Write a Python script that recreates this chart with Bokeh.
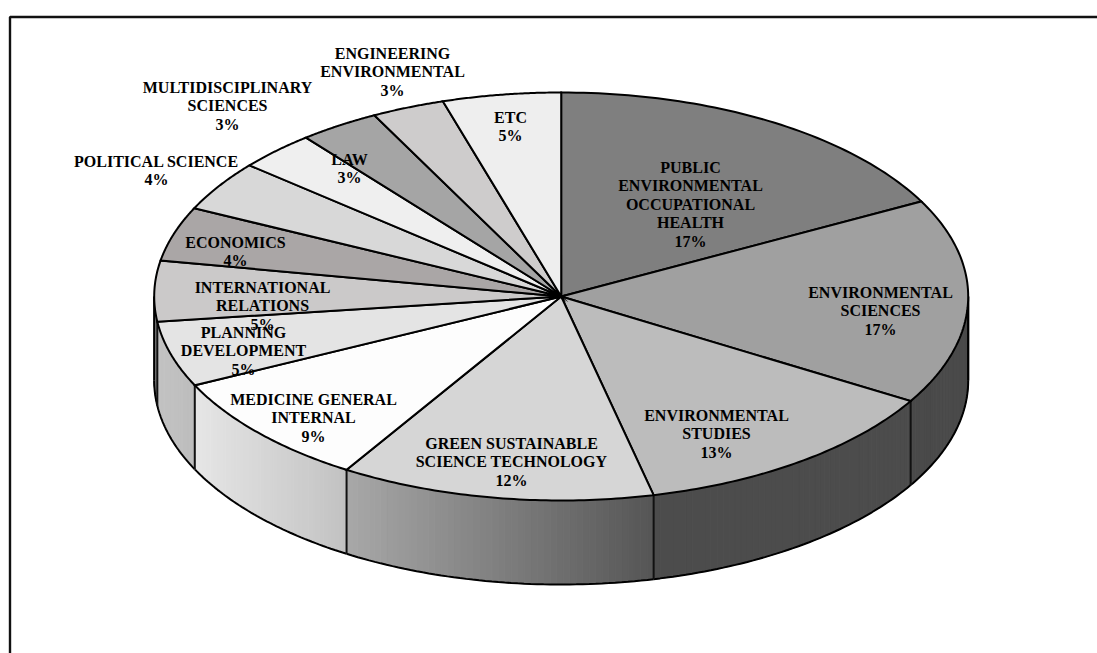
import numpy as np
from bokeh.core.properties import value
from bokeh.embed import file_html
from bokeh.models import ColumnDataSource, Range1d
from bokeh.plotting import figure
from bokeh.resources import INLINE

categories = ["PUBLIC ENVIRONMENTAL OCCUPATIONAL HEALTH", "ENVIRONMENTAL SCIENCES",
              "ENVIRONMENTAL STUDIES", "GREEN SUSTAINABLE SCIENCE TECHNOLOGY",
              "MEDICINE GENERAL INTERNAL", "PLANNING DEVELOPMENT",
              "INTERNATIONAL RELATIONS", "ECONOMICS", "POLITICAL SCIENCE",
              "MULTIDISCIPLINARY SCIENCES", "LAW", "ENGINEERING ENVIRONMENTAL", "ETC"]
shares = [17.3, 16.3, 12.8, 12.5, 9.0, 5.2, 4.8, 4.3, 4.0, 3.1, 3.2, 2.9, 4.7]
percent_labels = ["17%", "17%", "13%", "12%", "9%", "5%", "5%", "4%", "4%", "3%", "3%", "3%", "5%"]
label_lines = [
    ["PUBLIC", "ENVIRONMENTAL", "OCCUPATIONAL", "HEALTH"],
    ["ENVIRONMENTAL", "SCIENCES"],
    ["ENVIRONMENTAL", "STUDIES"],
    ["GREEN SUSTAINABLE", "SCIENCE TECHNOLOGY"],
    ["MEDICINE GENERAL", "INTERNAL"],
    ["PLANNING", "DEVELOPMENT"],
    ["INTERNATIONAL", "RELATIONS"],
    ["ECONOMICS"],
    ["POLITICAL SCIENCE"],
    ["MULTIDISCIPLINARY", "SCIENCES"],
    ["LAW"],
    ["ENGINEERING", "ENVIRONMENTAL"],
    ["ETC"],
]

# styling and layout (page-pixel coordinates)
top_colors = ["#7f7f7f", "#a0a0a0", "#bcbcbc", "#d6d6d6", "#fdfdfd", "#e4e4e4", "#cbc9c9",
              "#aaa6a6", "#d8d8d8", "#efefef", "#a5a5a5", "#cecccc", "#eeeeee"]
wall_colors = {1: ("#4a4a4a", "#4a4a4a"), 2: ("#4c4c4c", "#4c4c4c"), 3: ("#a8a8a8", "#555555"),
               4: ("#e6e6e6", "#c2c2c2"), 5: ("#c4c4c4", "#bcbcbc"), 6: ("#8c8c8c", "#8c8c8c")}
label_x = [690, 880, 716, 511, 313, 243, 262, 235, 156, 227, 349, 392, 510]
label_y = [167, 292, 415, 443, 399, 332, 287, 242, 161, 87, 159, 53, 117]
line_step = 18.4
CX, CY, RX, RY, DEPTH = 560.7, 296.0, 407.0, 204.0, 84.0
W, H = 1097, 653

p = figure(width=W, height=H, output_backend="svg", toolbar_location=None,
           x_range=Range1d(0, W), y_range=Range1d(H, 0),
           min_border=0, outline_line_color=None, background_fill_color="white")
p.axis.visible = False
p.grid.visible = False

def ex(t):
    return CX + RX * np.sin(np.radians(t))

def ey(t):
    return CY - RY * np.cos(np.radians(t))

# frame
p.line([9.5, 9.5, W], [H, 16.5, 16.5], line_color="#111111", line_width=2.4)

edges = np.concatenate([[0], np.cumsum(shares)]) / np.sum(shares) * 360.0

# side walls
for i in range(len(shares)):
    a, b = max(edges[i], 90.0), min(edges[i + 1], 270.0)
    if b <= a:
        continue
    ts = np.linspace(a, b, 50)
    xmin, xmax = ex(ts).min(), ex(ts).max()
    c0, c1 = wall_colors[i]
    c0 = np.array([int(c0[k:k + 2], 16) for k in (1, 3, 5)], float)
    c1 = np.array([int(c1[k:k + 2], 16) for k in (1, 3, 5)], float)
    xs, ys, cols = [], [], []
    for t0, t1 in zip(ts[:-1], ts[1:]):
        f = (0.5 * (ex(t0) + ex(t1)) - xmin) / max(xmax - xmin, 1e-6)
        c = c0 + (c1 - c0) * f
        cols.append("#%02x%02x%02x" % tuple(int(round(v)) for v in c))
        xs.append([ex(t0), ex(t1), ex(t1), ex(t0)])
        ys.append([ey(t0), ey(t1), ey(t1) + DEPTH, ey(t0) + DEPTH])
    p.patches(xs, ys, fill_color=cols, line_color=cols, line_width=1)
    p.line(ex(ts), ey(ts) + DEPTH, line_color="#000000", line_width=2.0)
    p.line([ex(a), ex(a)], [ey(a), ey(a) + DEPTH], line_color="#111111", line_width=2.0)

p.line([ex(270.0), ex(270.0)], [ey(270.0), ey(270.0) + DEPTH], line_color="#000000", line_width=2.0)
p.line([ex(90.0), ex(90.0)], [ey(90.0), ey(90.0) + DEPTH], line_color="#000000", line_width=2.0)

# top surface
for i in range(len(shares)):
    ts = np.linspace(edges[i], edges[i + 1], 60)
    p.patch(np.concatenate([[CX], ex(ts)]), np.concatenate([[CY], ey(ts)]),
            fill_color=top_colors[i], line_color="#000000", line_width=2.0, line_join="miter")

# labels
tx, ty, tt = [], [], []
for x0, y0, lines, pct in zip(label_x, label_y, label_lines, percent_labels):
    for j, s in enumerate(lines + [pct]):
        tx.append(x0)
        ty.append(y0 + j * line_step)
        tt.append(s)
p.text(x="x", y="y", text="t", source=ColumnDataSource(dict(x=tx, y=ty, t=tt)),
       text_font=value("Liberation Serif"), text_font_style="bold", text_font_size="16px",
       text_color="#000000", text_align="center", text_baseline="middle")

open("out.html", "w").write(file_html(p, INLINE))
